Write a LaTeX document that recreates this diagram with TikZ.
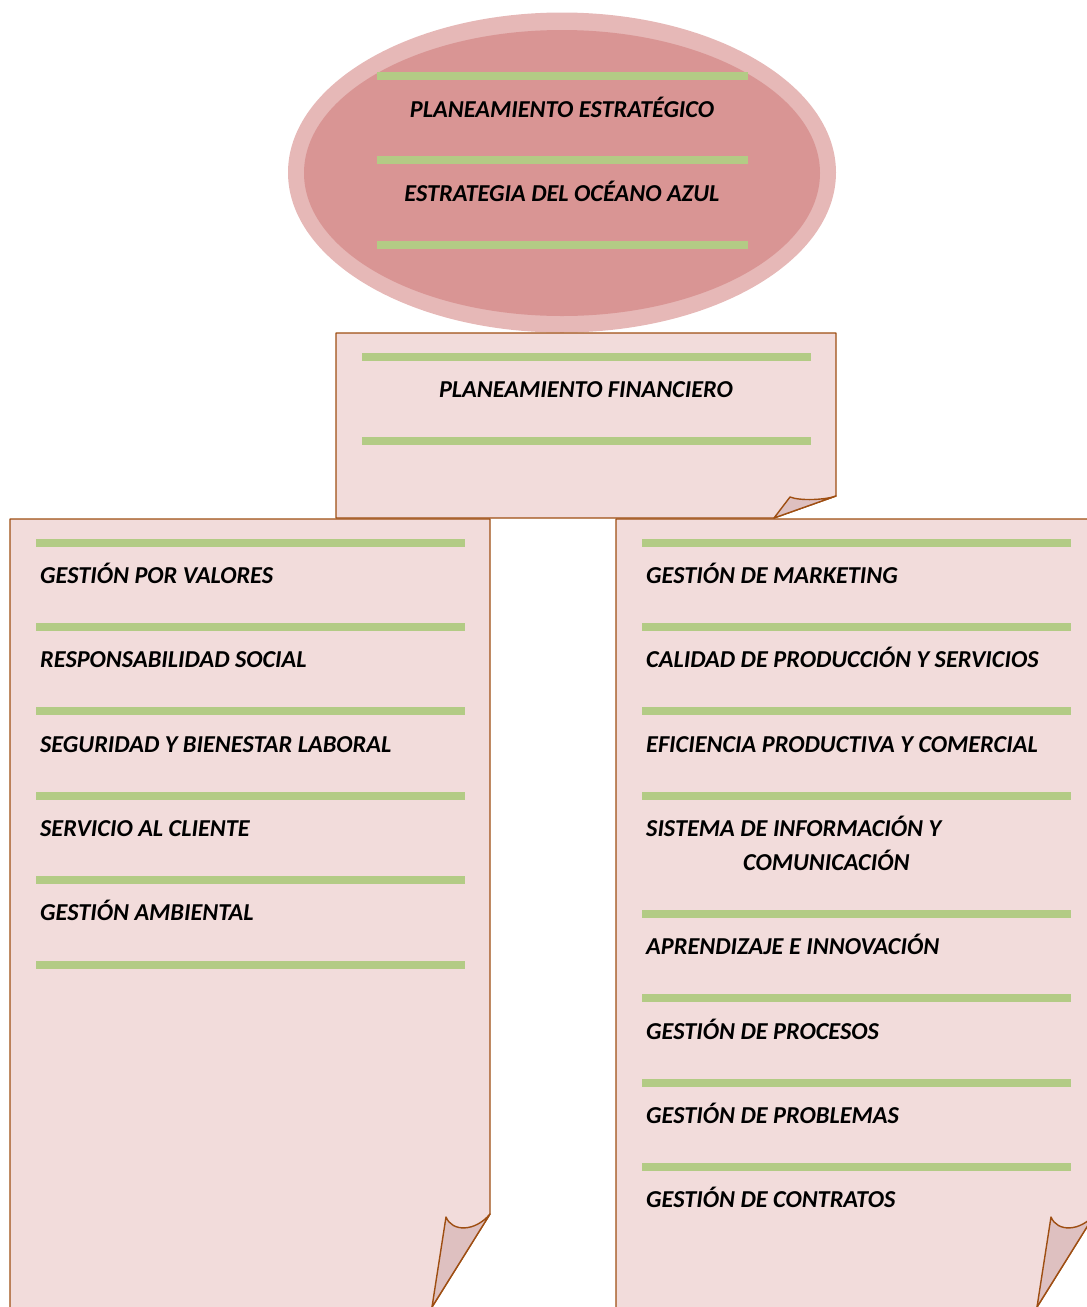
\documentclass[tikz,border=0pt]{standalone}
\usepackage{fontspec}
\setmainfont{Carlito}
\definecolor{ringout}{HTML}{E6B8B7}
\definecolor{ringin}{HTML}{D99594}
\definecolor{gline}{RGB}{179,203,133}
\definecolor{boxfill}{HTML}{F2DCDB}
\definecolor{flapfill}{RGB}{222,192,192}
\definecolor{edge}{RGB}{158,78,18}
\tikzset{
  greenbar/.style={draw=gline,line width=8pt},
  paper/.style={fill=boxfill,draw=edge,line width=1.4pt,line join=round},
  flap/.style={fill=flapfill,draw=edge,line width=1.4pt,line join=round},
  lbl/.style={inner sep=0pt,font=\fontsize{24.3}{28}\selectfont\bfseries\itshape,text=black}
}
\begin{document}
\begin{tikzpicture}[x=1pt,y=-1pt]
\useasboundingbox (0,0) rectangle (1087,1307);
% ellipse
\fill[ringout] (562,172.5) ellipse [x radius=274,y radius=160];
\fill[ringin] (562,173) ellipse [x radius=258,y radius=143];
\foreach \y in {76,160,245} \draw[greenbar] (377,\y) -- (748,\y);
\node[lbl,anchor=base] (t1) at (562,117) {PLANEAMIENTO ESTRATÉGICO};
\node[lbl,anchor=base] (t2) at (562,201) {ESTRATEGIA DEL OCÉANO AZUL};
% middle box
\draw[paper] (336,333) -- (836,333) -- (836,496) -- (774,518) -- (336,518) -- cycle;
\draw[flap] (774,518) -- (790,497) .. controls (800,501) and (825,500) .. (836,496) -- cycle;
\foreach \y in {357,441} \draw[greenbar] (362,\y) -- (811,\y);
\node[lbl,anchor=base] (m1) at (586,397) {PLANEAMIENTO FINANCIERO};
% left box
\draw[paper] (10,519) -- (490,519) -- (490,1214) -- (424,1320) -- (10,1320) -- cycle;
\draw[flap] (432,1307) -- (446,1217) .. controls (452,1232) and (475,1232) .. (490,1214) -- cycle;
\foreach \y in {543,627,711,796,880,965} \draw[greenbar] (36,\y) -- (465,\y);
\node[lbl,anchor=base west] (l1) at (40,583) {GESTIÓN POR VALORES};
\node[lbl,anchor=base west] (l2) at (40,667) {RESPONSABILIDAD SOCIAL};
\node[lbl,anchor=base west] (l3) at (40,752) {SEGURIDAD Y BIENESTAR LABORAL};
\node[lbl,anchor=base west] (l4) at (40,836) {SERVICIO AL CLIENTE};
\node[lbl,anchor=base west] (l5) at (40,920) {GESTIÓN AMBIENTAL};
% right box
\draw[paper] (616,519) -- (1095,519) -- (1095,1214) -- (1029,1320) -- (616,1320) -- cycle;
\draw[flap] (1037,1307) -- (1051,1217) .. controls (1057,1232) and (1080,1232) .. (1095,1214) -- cycle;
\foreach \y in {543,627,711,796,914,998,1083,1167} \draw[greenbar] (642,\y) -- (1071,\y);
\node[lbl,anchor=base west] (r1) at (646,583) {GESTIÓN DE MARKETING};
\node[lbl,anchor=base west] (r2) at (646,667) {CALIDAD DE PRODUCCIÓN Y SERVICIOS};
\node[lbl,anchor=base west] (r3) at (646,752) {EFICIENCIA PRODUCTIVA Y COMERCIAL};
\node[lbl,anchor=base west] (r4) at (646,836) {SISTEMA DE INFORMACIÓN Y};
\node[lbl,anchor=base west] (r5) at (743,870) {COMUNICACIÓN};
\node[lbl,anchor=base west] (r6) at (646,954) {APRENDIZAJE E INNOVACIÓN};
\node[lbl,anchor=base west] (r7) at (646,1039) {GESTIÓN DE PROCESOS};
\node[lbl,anchor=base west] (r8) at (646,1123) {GESTIÓN DE PROBLEMAS};
\node[lbl,anchor=base west] (r9) at (646,1207) {GESTIÓN DE CONTRATOS};
\end{tikzpicture}
\end{document}
